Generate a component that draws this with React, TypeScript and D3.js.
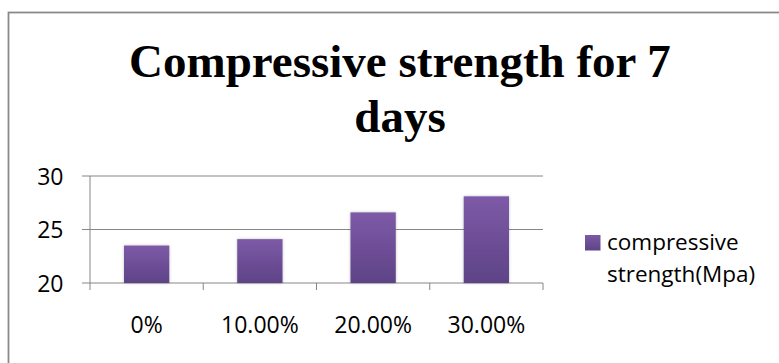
import React from "react";
import * as d3 from "d3";

// Replacement levels and their 7-day compressive strength (MPa)
const categories: string[] = ["0%", "10.00%", "20.00%", "30.00%"];
const strengthValues: number[] = [23.5, 24.1, 26.6, 28.1];
const yTicks: number[] = [20, 25, 30];
const titleLines: string[] = ["Compressive strength for 7", "days"];
const legendLines: string[] = ["compressive", "strength(Mpa)"];

const W = 779;
const H = 363;
const plot = { left: 90, right: 543, top: 176, bottom: 283 };
const gridColor = "#868686";
const labelFont = "'Open Sans', 'Noto Sans', sans-serif";

export default function App() {
  const x = d3
    .scaleBand<string>()
    .domain(categories)
    .range([plot.left, plot.right])
    .paddingInner(0.6)
    .paddingOuter(0.3);

  const y = d3.scaleLinear().domain([20, 30]).range([plot.bottom, plot.top]);

  const step = x.step();
  const boundaries = d3.range(categories.length + 1).map((i) => plot.left + i * step);

  return (
    <svg
      width={W}
      height={H}
      viewBox={`0 0 ${W} ${H}`}
      style={{ position: "absolute", left: 0, top: 0, background: "#fff" }}
    >
      <defs>
        <linearGradient id="barFill" x1="0" y1="0" x2="0" y2="1">
          <stop offset="0%" stopColor="#7d5aa7" />
          <stop offset="100%" stopColor="#5e4386" />
        </linearGradient>
        <filter id="barShadow" x="-20%" y="-10%" width="140%" height="120%">
          <feGaussianBlur in="SourceAlpha" stdDeviation="1.6" />
          <feOffset dx="0" dy="0" result="blur" />
          <feComponentTransfer>
            <feFuncA type="linear" slope="0.25" />
          </feComponentTransfer>
          <feMerge>
            <feMergeNode />
            <feMergeNode in="SourceGraphic" />
          </feMerge>
        </filter>
      </defs>

      {/* chart frame */}
      <rect x={8.5} y={12.5} width={W + 20} height={H + 20} fill="#fff" stroke="#8a8a8a" strokeWidth={1.8} />

      {/* title */}
      <text
        x={400}
        textAnchor="middle"
        fontFamily="'Liberation Serif', 'Times New Roman', serif"
        fontWeight="bold"
        fontSize={47}
        fill="#000"
      >
        {titleLines.map((line, i) => (
          <tspan key={line} x={400} y={77 + i * 55}>
            {line}
          </tspan>
        ))}
      </text>

      {/* horizontal gridlines with outward tick marks */}
      {yTicks.map((t) => (
        <line
          key={`g${t}`}
          x1={plot.left - 8}
          x2={plot.right}
          y1={y(t)}
          y2={y(t)}
          stroke={gridColor}
          strokeWidth={1}
        />
      ))}

      {/* value axis */}
      <line x1={plot.left} x2={plot.left} y1={plot.top} y2={plot.bottom} stroke={gridColor} strokeWidth={1} />

      {/* category tick marks */}
      {boundaries.map((bx, i) => (
        <line key={`t${i}`} x1={bx} x2={bx} y1={plot.bottom} y2={plot.bottom + 7} stroke={gridColor} strokeWidth={1} />
      ))}

      {/* bars */}
      {categories.map((c, i) => (
        <rect
          key={c}
          x={x(c)}
          y={y(strengthValues[i])}
          width={x.bandwidth()}
          height={y(20) - y(strengthValues[i])}
          fill="url(#barFill)"
          filter="url(#barShadow)"
        />
      ))}

      {/* y tick labels */}
      {yTicks.map((t) => (
        <text
          key={`l${t}`}
          x={63.5}
          y={y(t) + 8.5}
          textAnchor="end"
          fontFamily={labelFont}
          fontSize={23}
          fill="#000"
        >
          {t}
        </text>
      ))}

      {/* category labels */}
      {categories.map((c) => (
        <text
          key={`c${c}`}
          x={(x(c) as number) + x.bandwidth() / 2}
          y={333}
          textAnchor="middle"
          fontFamily={labelFont}
          fontSize={23}
          fill="#000"
        >
          {c}
        </text>
      ))}

      {/* legend */}
      <rect x={585} y={235} width={15.5} height={15.5} fill="url(#barFill)" />
      <text fontFamily={labelFont} fontSize={22.5} fill="#000">
        {legendLines.map((line, i) => (
          <tspan key={line} x={607} y={250 + i * 31.5}>
            {line}
          </tspan>
        ))}
      </text>
    </svg>
  );
}
